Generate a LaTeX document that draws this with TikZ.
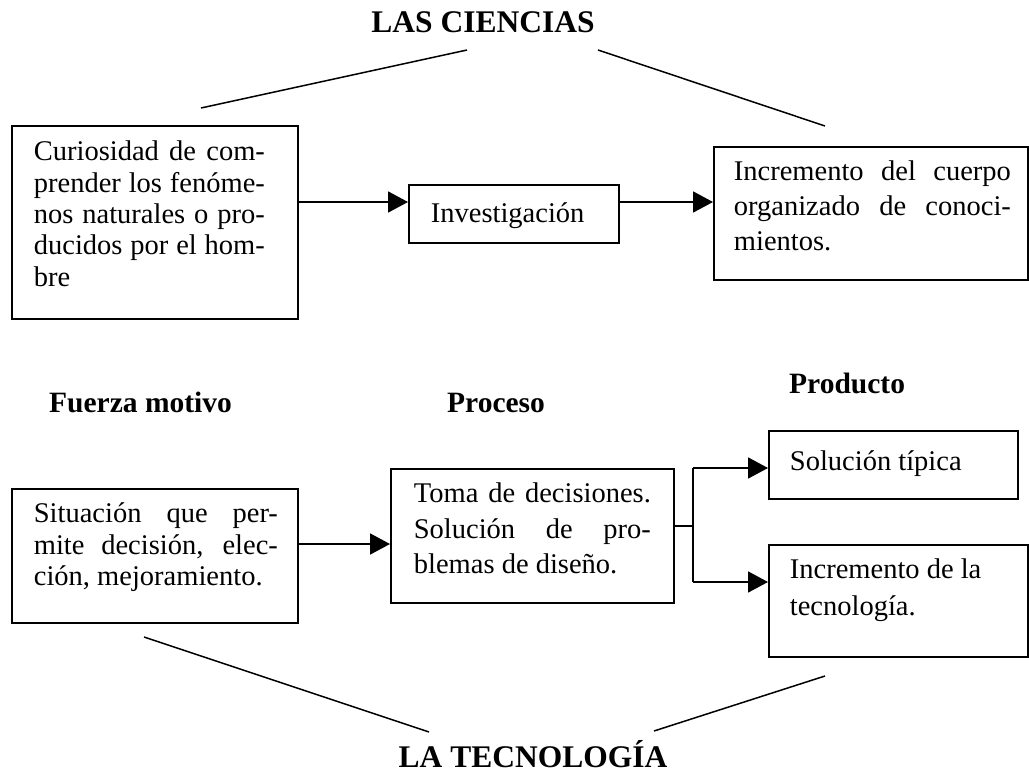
\documentclass[tikz,border=0pt]{standalone}
\usepackage{fontspec}
\setmainfont{Liberation Serif}
\usetikzlibrary{arrows.meta}
\newcommand\jline[2]{\makebox[#1][s]{#2}}
\newcommand\boxcontent[6]{\parbox[c][#2][t]{#1}{\baselineskip=#5\lineskiplimit=-100pt\leftskip=#3\relax\noindent\rule{0pt}{#4}#6}}
\tikzset{
  box/.style={draw, line width=1.8pt, inner sep=0pt, anchor=north west, font=\fontsize{28.5}{31}\selectfont},
  conn/.style={line width=1.8pt, -{Triangle[length=20pt,width=21pt]}},
  plain/.style={line width=1.8pt},
  diag/.style={line width=1.5pt},
  title/.style={font=\fontsize{31.5}{36}\selectfont\bfseries, anchor=base, inner sep=0pt},
  head/.style={font=\fontsize{29.5}{34}\selectfont\bfseries, anchor=base west, inner sep=0pt}
}
\begin{document}
\begin{tikzpicture}[x=1pt,y=-1pt]
\fill[white] (0,0) rectangle (1029,774);
\path[use as bounding box] (0,0) rectangle (1029,774);

% titles
\node[title] (cien) at (483,32) {LAS CIENCIAS};
\node[title] (tec) at (533,767) {LA TECNOLOGÍA};

% headings
\node[head] (fm) at (49,412) {Fuerza motivo};
\node[head] (pr) at (447,412) {Proceso};
\node[head] (pd) at (789,393) {Producto};

% top boxes
\node[box] (b1) at (11,125) {\boxcontent{286pt}{193pt}{22pt}{35pt}{31.3pt}{\jline{231pt}{Curiosidad de com-}\\\jline{231pt}{prender los fenóme-}\\\jline{231pt}{nos naturales o pro-}\\\jline{231pt}{ducidos por el hom-}\\bre}};
\node[box] (b2) at (408,184) {\boxcontent{210pt}{58pt}{22pt}{38pt}{31pt}{Investigación}};
\node[box] (b3) at (713,146) {\boxcontent{314pt}{133pt}{20pt}{34pt}{35pt}{\jline{277pt}{Incremento del cuerpo}\\\jline{277pt}{organizado de conoci-}\\mientos.}};

% bottom boxes
\node[box] (b4) at (11,488) {\boxcontent{286pt}{134pt}{22pt}{34pt}{31.5pt}{\jline{244pt}{Situación que per-}\\\jline{244pt}{mite decisión, elec-}\\ción, mejoramiento.}};
\node[box] (b5) at (390,468) {\boxcontent{283pt}{134pt}{23pt}{34pt}{35.5pt}{\jline{237pt}{Toma de decisiones.}\\\jline{237pt}{Solución de pro-}\\blemas de diseño.}};
\node[box] (b6) at (768,430) {\boxcontent{249pt}{68pt}{21pt}{40pt}{31pt}{Solución típica}};
\node[box] (b7) at (768,544) {\boxcontent{259pt}{112pt}{21pt}{34pt}{37pt}{Incremento de la\\tecnología.}};

% connector rows
\coordinate (r1) at (0,202);
\coordinate (r2) at (0,544);
\coordinate (fork) at (693,526);
\coordinate (f1) at (693,468);
\coordinate (f2) at (693,582);

\draw[conn] (b1.east |- r1) -- (b2.west |- r1);
\draw[conn] (b2.east |- r1) -- (b3.west |- r1);
\draw[conn] (b4.east |- r2) -- (b5.west |- r2);
\draw[plain] (b5.east |- fork) -- (fork);
\draw[plain] (f1) -- (f2);
\draw[conn] (f1) -- (f1 -| b6.west);
\draw[conn] (f2) -- (f2 -| b7.west);

% diagonal lines
\coordinate (c1) at (201,108);
\coordinate (c2) at (467,50);
\coordinate (c3) at (598,50);
\coordinate (c4) at (825,126);
\coordinate (t1) at (144,637);
\coordinate (t2) at (429,732);
\coordinate (t3) at (825,676);
\coordinate (t4) at (654,731);
\draw[diag] (c1) -- (c2);
\draw[diag] (c3) -- (c4);
\draw[diag] (t1) -- (t2);
\draw[diag] (t3) -- (t4);
\end{tikzpicture}
\end{document}
